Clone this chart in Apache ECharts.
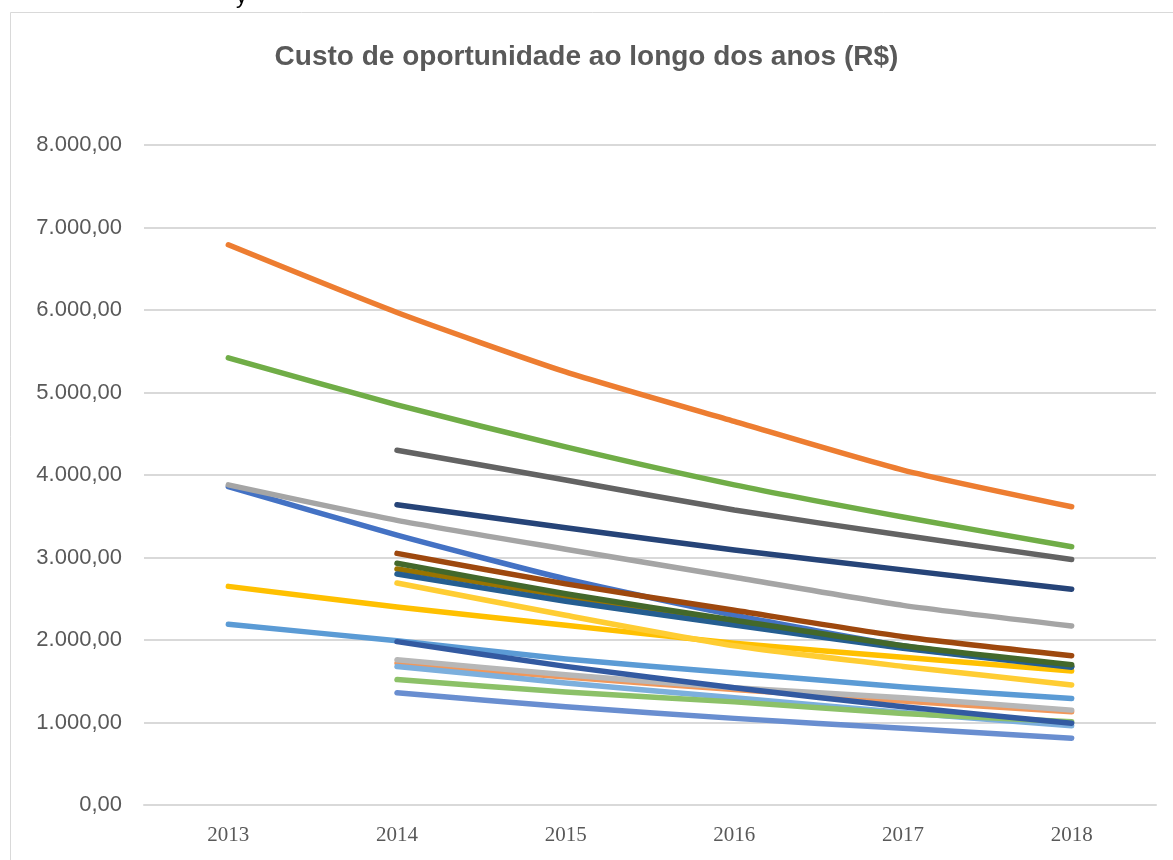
<!DOCTYPE html>
<html>
<head>
<meta charset="utf-8">
<script src="https://cdn.jsdelivr.net/npm/echarts@6/dist/echarts.min.js"></script>
<style>
  html, body { margin: 0; padding: 0; background: #fff; }
  #chart { width: 1173px; height: 860px; }
</style>
</head>
<body>
<div id="chart"></div>
<script>
// categorias e rótulos
const years = ['2013', '2014', '2015', '2016', '2017', '2018']
const titleText = 'Custo de oportunidade ao longo dos anos (R$)'

// séries ('-' = sem dado)
const s01 = [3860, 3270, 2740, 2300, 1930, 1680]
const s02 = [6790, 5970, 5250, 4650, 4060, 3615]
const s03 = [3880, 3450, 3100, 2760, 2420, 2170]
const s04 = [2650, 2400, 2180, 1960, 1790, 1625]
const s05 = [2190, 1990, 1770, 1600, 1430, 1290]
const s06 = [5420, 4850, 4340, 3880, 3490, 3130]
const s07 = ['-', 3640, 3360, 3090, 2850, 2615]
const s08 = ['-', 3050, 2680, 2360, 2040, 1810]
const s09 = ['-', 4300, 3940, 3575, 3270, 2975]
const s10 = ['-', 2860, 2530, 2210, 1910, 1680]
const s11 = ['-', 2800, 2470, 2180, 1900, 1670]
const s12 = ['-', 2930, 2560, 2240, 1930, 1700]
const s13 = ['-', 1360, 1190, 1050, 930, 810]
const s14 = ['-', 1720, 1550, 1400, 1260, 1130]
const s15 = ['-', 1760, 1580, 1420, 1300, 1150]
const s16 = ['-', 2690, 2300, 1930, 1680, 1455]
const s17 = ['-', 1680, 1480, 1300, 1120, 960]
const s18 = ['-', 1520, 1370, 1250, 1110, 1010]
const s19 = ['-', 1980, 1680, 1420, 1190, 990]

const seriesData = [s01, s02, s03, s04, s05, s06, s07, s08, s09, s10,
  s11, s12, s13, s14, s15, s16, s17, s18, s19]

// paleta do Excel
const colors = [
  '#4472c4', '#ed7d31', '#a5a5a5', '#ffc000', '#5b9bd5', '#70ad47',
  '#264478', '#9e480e', '#636363', '#997300', '#255e91', '#43682b',
  '#698ed0', '#f1975a', '#b7b7b7', '#ffcd33', '#7cafdd', '#8cc168',
  '#335aa1'
]

const fmt = v => v.toLocaleString('pt-BR', { minimumFractionDigits: 2, maximumFractionDigits: 2 })

const chart = echarts.init(document.getElementById('chart'))

chart.setOption({
  animation: false,
  backgroundColor: '#fff',
  color: colors,
  title: {
    text: titleText,
    left: 'center',
    top: 38,
    textStyle: {
      fontFamily: 'Liberation Sans, Arial, sans-serif',
      fontSize: 28,
      fontWeight: 'bold',
      color: '#595959'
    }
  },
  graphic: [
    {
      type: 'rect',
      shape: { x: 10.5, y: 12.5, width: 1200, height: 900 },
      style: { fill: 'none', stroke: '#d9d9d9', lineWidth: 1 },
      silent: true
    },
    {
      type: 'text',
      left: 236,
      top: -14,
      style: { text: 'y', fontSize: 22, fill: '#000', fontFamily: 'Liberation Sans, Arial, sans-serif' },
      silent: true
    }
  ],
  grid: {
    left: 144,
    right: 17,
    top: 145,
    bottom: 55,
    containLabel: false
  },
  xAxis: {
    type: 'category',
    data: years,
    boundaryGap: true,
    axisLine: { show: true, lineStyle: { color: '#d9d9d9', width: 2 } },
    axisTick: { show: false },
    axisLabel: {
      color: '#595959',
      fontFamily: 'Liberation Serif, Times New Roman, serif',
      fontSize: 21,
      margin: 20
    },
    splitLine: { show: false }
  },
  yAxis: {
    type: 'value',
    min: 0,
    max: 8000,
    interval: 1000,
    axisLine: { show: false },
    axisTick: { show: false },
    axisLabel: {
      color: '#595959',
      fontFamily: 'Liberation Sans, Arial, sans-serif',
      fontSize: 22,
      margin: 22,
      formatter: fmt
    },
    splitLine: { lineStyle: { color: '#d9d9d9', width: 2 } }
  },
  series: seriesData.map((d, i) => ({
    type: 'line',
    data: d,
    smooth: 0.2,
    showSymbol: false,
    symbol: 'none',
    connectNulls: false,
    lineStyle: { width: 5.5, color: colors[i], cap: 'round', join: 'round' },
    z: 2 + i * 0.01
  }))
})
</script>
</body>
</html>
